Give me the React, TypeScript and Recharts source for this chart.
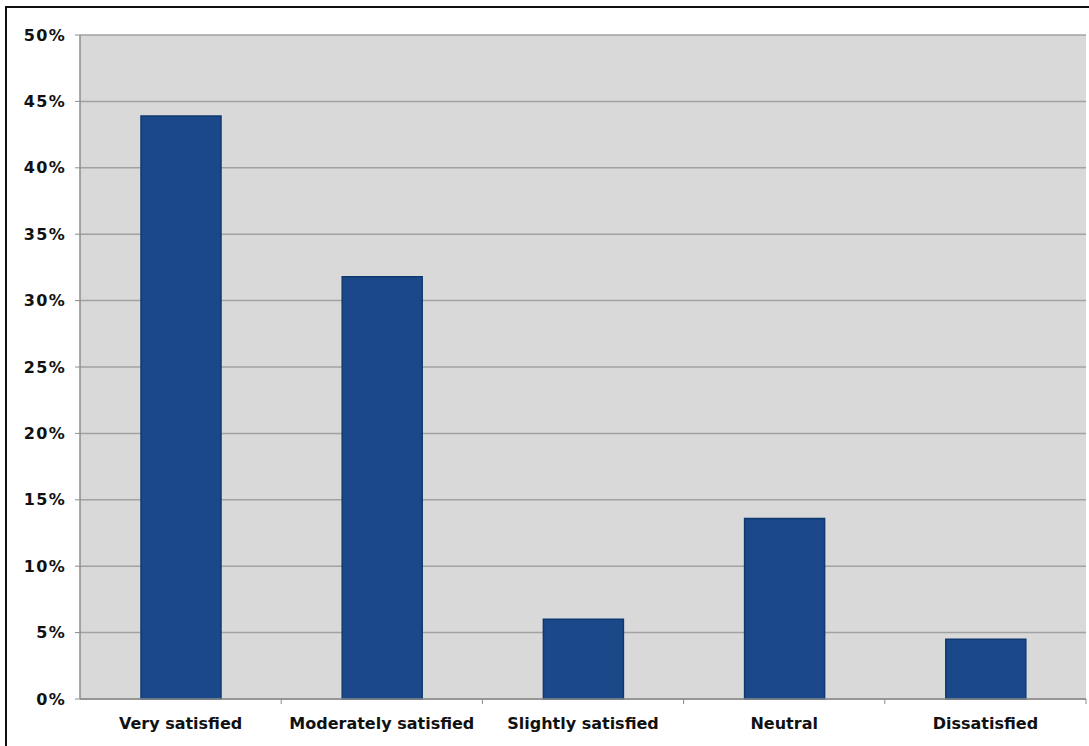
import React from "react";
import { BarChart, Bar, XAxis, YAxis, CartesianGrid } from "recharts";

// Survey responses: share of respondents per satisfaction level (%)
const categories = [
  "Very satisfied",
  "Moderately satisfied",
  "Slightly satisfied",
  "Neutral",
  "Dissatisfied",
];
const shares = [43.9, 31.8, 6.0, 13.6, 4.5];
const yTicks = [0, 5, 10, 15, 20, 25, 30, 35, 40, 45, 50];

const data = categories.map((name, i) => ({ name, share: shares[i] }));

const WIDTH = 1089;
const HEIGHT = 746;
const Y_AXIS_W = 80;
const RIGHT_M = 3;
const BAND = (WIDTH - Y_AXIS_W - RIGHT_M) / categories.length;
const FONT = "'DejaVu Sans', Verdana, sans-serif";
const AXIS_GRAY = "#8c8c8c";

// Category label centred in its band, with a tick mark on the band's left
// edge (and the right edge for the last band).
const CategoryTick = (props: any) => {
  const { x, y, payload, index } = props;
  const top = y - 5;
  const left = x - BAND / 2;
  const right = x + BAND / 2;
  return (
    <g>
      {index > 0 && (
        <line x1={left} y1={top} x2={left} y2={top + 5} stroke={AXIS_GRAY} strokeWidth={1} />
      )}
      {index === categories.length - 1 && (
        <line x1={right} y1={top} x2={right} y2={top + 5} stroke={AXIS_GRAY} strokeWidth={1} />
      )}
      <text
        x={x}
        y={y}
        dy={25}
        textAnchor="middle"
        fontFamily={FONT}
        fontWeight="bold"
        fontSize={16}
        fill="#111"
      >
        {payload.value}
      </text>
    </g>
  );
};

export default function App() {
  return (
    <div
      style={{
        position: "fixed",
        left: 0,
        top: 0,
        width: WIDTH,
        height: HEIGHT,
        overflow: "hidden",
        background: "#fff",
      }}
    >
      <div
        style={{
          position: "absolute",
          left: 5,
          top: 6,
          width: WIDTH + 20,
          height: HEIGHT + 20,
          border: "2px solid #111",
        }}
      />
      <div style={{ position: "absolute", left: 0, top: 0 }}>
        <BarChart
          width={WIDTH}
          height={HEIGHT}
          data={data}
          margin={{ top: 35, right: RIGHT_M, bottom: 0, left: 0 }}
          barCategoryGap="30%"
        >
          <CartesianGrid
            vertical={false}
            stroke="#a2a2a2"
            strokeWidth={1.5}
            fill="#d9d9d9"
            fillOpacity={1}
          />
          <XAxis
            dataKey="name"
            height={47}
            interval={0}
            tickLine={false}
            tickSize={5}
            tickMargin={0}
            axisLine={{ stroke: AXIS_GRAY, strokeWidth: 1.5 }}
            tick={<CategoryTick />}
          />
          <YAxis
            width={Y_AXIS_W}
            domain={[0, 50]}
            ticks={yTicks}
            interval={0}
            tickFormatter={(v: number) => `${v}%`}
            tickSize={5}
            tickMargin={9}
            axisLine={{ stroke: AXIS_GRAY, strokeWidth: 1.5 }}
            tickLine={{ stroke: AXIS_GRAY }}
            tick={{
              fontFamily: FONT,
              fontWeight: "bold",
              fontSize: 16,
              fill: "#111",
              letterSpacing: 1.3,
            }}
          />
          <YAxis
            yAxisId="frame"
            orientation="right"
            width={0}
            domain={[0, 50]}
            tick={false}
            tickLine={false}
            axisLine={{ stroke: "#7a7a7a", strokeWidth: 2 }}
          />
          <Bar
            dataKey="share"
            fill="#1a4889"
            stroke="#0f3870"
            strokeWidth={1.5}
            barSize={80}
            isAnimationActive={false}
          />
        </BarChart>
      </div>
    </div>
  );
}
